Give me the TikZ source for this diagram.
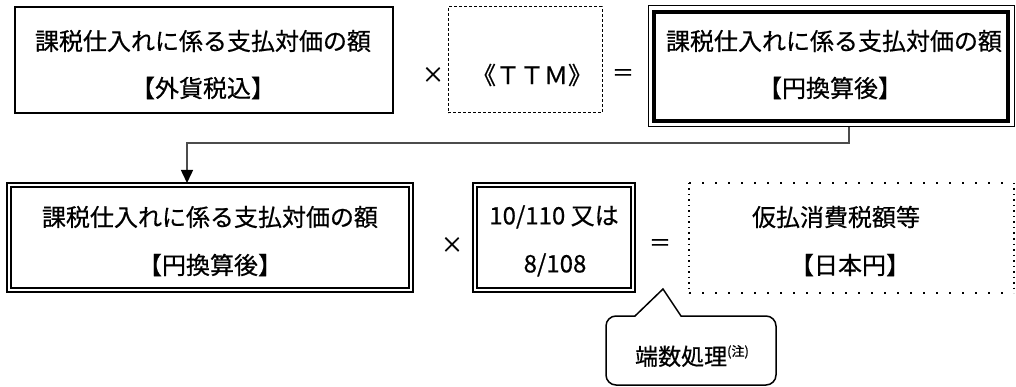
\documentclass[tikz,border=0pt]{standalone}
\usepackage{fontspec}
\setmainfont{Noto Sans CJK JP}[FakeBold=0.6]
\usetikzlibrary{arrows.meta}
\begin{document}
\begin{tikzpicture}[x=1pt,y=-1pt,
  every node/.style={inner sep=0pt, outer sep=0pt},
  txt/.style={font=\fontsize{24}{24}\selectfont},
  op/.style={font=\fontsize{22}{22}\selectfont},
  solidbox/.style={draw, line width=2pt},
  dashbox/.style={draw, line width=1pt, dash pattern=on 3pt off 2pt},
  thinouter/.style={draw, line width=1pt},
  dblouter/.style={draw, line width=2.5pt},
  thickinner/.style={line width=4pt},
  thininner/.style={line width=1.5pt},
  dotrow/.style={line width=2pt, dash pattern=on 2pt off 11pt},
  dotcol/.style={line width=1.5pt, dash pattern=on 1.5pt off 4pt},
  conn/.style={draw=black!70, line width=1.5pt},
  callout/.style={line width=1.5pt},
]
\useasboundingbox (0,0) rectangle (1016,387);

% first row
\node[solidbox, minimum width=378pt, minimum height=106pt] (b1) at (204,60) {};
\node[txt] (t1a) at (203,41) {課税仕入れに係る支払対価の額};
\node[txt] (t1b) at (203,88) {【外貨税込】};
\node[op] (x1) at (433,75) {×};
\node[dashbox, minimum width=154pt, minimum height=106pt] (b2) at (525,60) {};
\node[txt] (t2) at (532,75) {《ＴＴＭ》};
\node[op] (e1) at (623,75) {＝};
\node[thinouter, minimum width=366pt, minimum height=121pt] (b3) at (831,66.5) {};
\draw[thickinner] ([xshift=6pt,yshift=-6pt]b3.north west) rectangle ([xshift=-6pt,yshift=6pt]b3.south east);
\node[txt] (t3a) at (834,41) {課税仕入れに係る支払対価の額};
\node[txt] (t3b) at (830,88) {【円換算後】};

% second row
\node[dblouter, minimum width=406pt, minimum height=109pt] (b4) at (210,237.5) {};
\draw[thininner] ([xshift=4pt,yshift=-4pt]b4.north west) rectangle ([xshift=-4pt,yshift=4pt]b4.south east);
\node[txt] (t4a) at (210,217) {課税仕入れに係る支払対価の額};
\node[txt] (t4b) at (210,265) {【円換算後】};
\node[op] (x2) at (452,245) {×};
\node[dblouter, minimum width=162pt, minimum height=109pt] (b5) at (554,237.5) {};
\draw[thininner] ([xshift=4pt,yshift=-4pt]b5.north west) rectangle ([xshift=-4pt,yshift=4pt]b5.south east);
\node[txt] (t5a) at (554,217) {10/110 又は};
\node[txt] (t5b) at (555,265) {8/108};
\node[op] (e2) at (660,245) {＝};
\node[minimum width=325pt, minimum height=110pt] (b6) at (851.5,238) {};
\draw[dotrow] (b6.north west) -- (b6.north east);
\draw[dotrow] (b6.south west) -- (b6.south east);
\draw[dotcol] (b6.north west) -- (b6.south west);
\draw[dotcol] (b6.north east) -- (b6.south east);
\node[txt] (t6a) at (836,217) {仮払消費税額等};
\node[txt] (t6b) at (850,265) {【日本円】};

% connector
\coordinate (bend1) at (849,143);
\coordinate (bend2) at (187,143);
\draw[conn, -{Triangle[width=12pt,length=13pt,color=black]}]
  (bend1 |- b3.south) -- (bend1) -- (bend2) -- (bend2 |- b4.north);

% callout
\coordinate (tip) at (663,289);
\draw[callout] (606,350) [rounded corners=10pt] -- (606,316) [sharp corners] -- (635,316) -- (tip) -- (681,316)
  [rounded corners=10pt] -- (776,316) -- (776,385) -- (606,385) -- cycle;
\node[font=\fontsize{23}{23}\selectfont] (note) at (692,356) {端数処理\raisebox{9pt}{\fontsize{13}{13}\selectfont (注)}};
\end{tikzpicture}
\end{document}
